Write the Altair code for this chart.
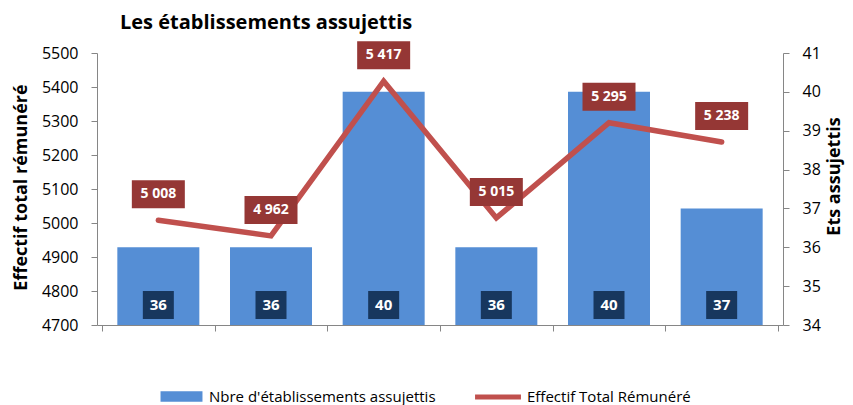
import altair as alt
import pandas as pd

periods = [1, 2, 3, 4, 5, 6]
etablissements = [36, 36, 40, 36, 40, 37]
effectif = [5008, 4962, 5417, 5015, 5295, 5238]
bar_series = "Nbre d'établissements assujettis"
line_series = "Effectif Total Rémunéré"

df = pd.DataFrame({"idx": periods, "ets": etablissements, "eff": effectif})

FONT = "Open Sans"
GREY = "#868686"
BLUE = "#558ED5"
RED = "#C0504D"
DARKRED = "#953735"
NAVY = "#17375E"

base = alt.Chart(df).transform_calculate(
    pos="datum.idx - 0.5",
    effl="replace(format(datum.eff, ','), ',', ' ')",
    bs="'" + bar_series.replace("'", "\\'") + "'",
    ls="'" + line_series + "'",
)

x_enc = alt.X(
    "pos:Q",
    scale=alt.Scale(domain=[0, 6], nice=False, zero=False),
    axis=alt.Axis(values=[0, 1, 2, 3, 4, 5, 6], labels=False, title=None, grid=False,
                  domainColor=GREY, tickColor=GREY, tickSize=6),
)

y_bar_scale = alt.Scale(domain=[34, 41], nice=False, zero=False)
y_bar_axis = alt.Axis(orient="right", values=list(range(34, 42)), title="Ets assujettis", grid=False,
                      domainColor=GREY, tickColor=GREY, tickSize=6, labelPadding=13, labelOverlap=False,
                      labelFont=FONT, labelFontSize=16, labelColor="black",
                      titleFont=FONT, titleFontSize=18, titleFontWeight="bold", titleColor="black",
                      titleX=51, titleY=123, titleAngle=270, titleAlign="center", titleBaseline="middle")

bars = base.mark_bar(width=82).encode(
    x=x_enc, y=alt.Y("ets:Q", scale=y_bar_scale, axis=y_bar_axis), y2=alt.datum(34),
    color=alt.Color("bs:N", scale=alt.Scale(domain=[bar_series], range=[BLUE]),
                    legend=alt.Legend(orient="none", legendX=77, legendY=336, title=None,
                                      symbolType="M-4,-1H4V1H-4Z", symbolSize=110,
                                      labelFont=FONT, labelFontSize=15, labelColor="black",
                                      labelLimit=0, labelOffset=20, symbolStrokeWidth=0)),
)
bar_box = base.mark_bar(width=31, color=NAVY, yOffset=-34, y2Offset=-6).encode(
    x=x_enc, y=alt.Y(datum=34, scale=y_bar_scale, axis=y_bar_axis), y2=alt.datum(34)
)
bar_txt = base.mark_text(color="white", font=FONT, fontSize=15, fontWeight="bold",
                         baseline="middle", dy=-20).encode(
    x=x_enc, y=alt.Y(datum=34, scale=y_bar_scale, axis=y_bar_axis), text="ets:Q"
)
bar_layer = alt.layer(bars, bar_box, bar_txt)

y_line_scale = alt.Scale(domain=[4700, 5500], nice=False, zero=False)
y_line_axis = alt.Axis(orient="left", values=list(range(4700, 5501, 100)), format="d",
                       title="Effectif total rémunéré", grid=False, labelOverlap=False,
                       domainColor=GREY, tickColor=GREY, tickSize=6, labelPadding=13,
                       labelFont=FONT, labelFontSize=16, labelColor="black",
                       titleFont=FONT, titleFontSize=18, titleFontWeight="bold", titleColor="black",
                       titleX=-76, titleY=134, titleAngle=270, titleAlign="center", titleBaseline="middle")
y_line = alt.Y("eff:Q", scale=y_line_scale, axis=y_line_axis)

line = base.mark_line(strokeWidth=5.5, strokeCap="round").encode(
    x=x_enc, y=y_line,
    stroke=alt.Stroke("ls:N", scale=alt.Scale(domain=[line_series], range=[RED]),
                      legend=alt.Legend(orient="none", legendX=393, legendY=336, title=None,
                                        symbolType="M-4.5,0H4.5", symbolSize=104, symbolStrokeWidth=5,
                                        labelFont=FONT, labelFontSize=15, labelColor="black",
                                        labelLimit=0, labelOffset=21)),
)
line_box = base.mark_bar(width=53, color=DARKRED, yOffset=-40, y2Offset=-12).encode(
    x=x_enc, y=y_line, y2="eff:Q"
)
line_txt = base.mark_text(color="white", font=FONT, fontSize=14, fontWeight="bold",
                          baseline="middle", dy=-26).encode(
    x=x_enc, y=y_line, text="effl:N"
)
line_layer = alt.layer(line, line_box, line_txt)

chart = alt.layer(bar_layer, line_layer).resolve_scale(y="independent").properties(
    width=686, height=272,
    autosize=alt.AutoSizeParams(type="none"),
    padding={"left": 89, "top": 45, "right": 62, "bottom": 80},
    title=alt.TitleParams("Les établissements assujettis", anchor="start", frame="group", dx=23,
                          font=FONT, fontSize=20, fontWeight="bold", color="black", offset=8),
).configure_view(stroke=None)

chart.save("out.html", embed_options={"renderer": "svg", "actions": False})
